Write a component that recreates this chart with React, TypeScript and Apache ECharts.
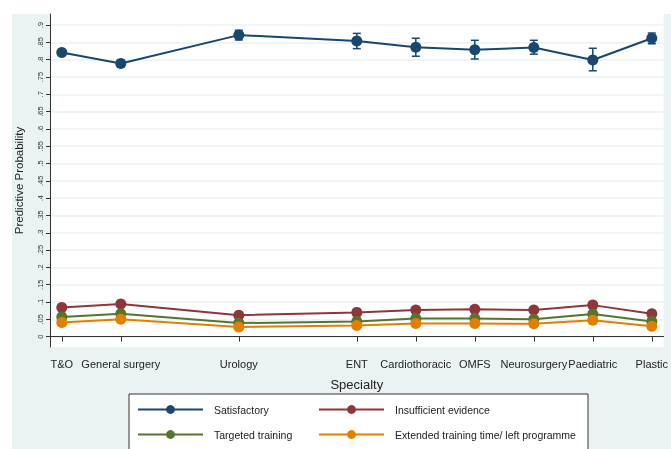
import React, { useEffect, useRef } from "react";
import * as echarts from "echarts";

const categories = ["T&O", "General surgery", "Urology", "ENT", "Cardiothoracic", "OMFS", "Neurosurgery", "Paediatric", "Plastic"];
const positions = [1, 2, 4, 6, 7, 8, 9, 10, 11];
const yTicks = [0, 0.05, 0.1, 0.15, 0.2, 0.25, 0.3, 0.35, 0.4, 0.45, 0.5, 0.55, 0.6, 0.65, 0.7, 0.75, 0.8, 0.85, 0.9];

const satisfactory = [0.821, 0.789, 0.871, 0.854, 0.836, 0.829, 0.835, 0.799, 0.862];
const satisfactoryLow = [0.813, 0.779, 0.857, 0.832, 0.810, 0.802, 0.816, 0.768, 0.846];
const satisfactoryHigh = [0.829, 0.799, 0.885, 0.876, 0.862, 0.856, 0.856, 0.833, 0.877];

const insufficient = [0.084, 0.094, 0.062, 0.070, 0.077, 0.079, 0.077, 0.091, 0.066];
const insufficientLow = [0.079, 0.089, 0.058, 0.065, 0.070, 0.072, 0.071, 0.081, 0.061];
const insufficientHigh = [0.089, 0.099, 0.066, 0.075, 0.084, 0.086, 0.083, 0.101, 0.071];

const targeted = [0.057, 0.066, 0.039, 0.044, 0.052, 0.052, 0.050, 0.065, 0.044];
const targetedLow = [0.053, 0.062, 0.036, 0.040, 0.047, 0.047, 0.046, 0.058, 0.040];
const targetedHigh = [0.061, 0.070, 0.042, 0.048, 0.057, 0.057, 0.054, 0.072, 0.048];

const extended = [0.041, 0.050, 0.028, 0.032, 0.038, 0.038, 0.037, 0.047, 0.030];
const extendedLow = [0.038, 0.046, 0.025, 0.029, 0.034, 0.034, 0.033, 0.042, 0.027];
const extendedHigh = [0.044, 0.054, 0.031, 0.035, 0.042, 0.042, 0.041, 0.052, 0.033];

const seriesNames = ["Satisfactory", "Insufficient evidence", "Targeted training", "Extended training time/ left programme"];
const colors = ["#1a476f", "#90353b", "#55752f", "#e37e00"];

const FONT = "Liberation Sans, Arial, sans-serif";

export default function App() {
  const ref = useRef<HTMLDivElement>(null);
  useEffect(() => {
    if (!ref.current) return;
    const chart = echarts.init(ref.current, null, { renderer: "svg" });
    const values = [satisfactory, insufficient, targeted, extended];
    const lows = [satisfactoryLow, insufficientLow, targetedLow, extendedLow];
    const highs = [satisfactoryHigh, insufficientHigh, targetedHigh, extendedHigh];

    const errSeries = values.map((_, si) => ({
      type: "custom",
      name: seriesNames[si] + " CI",
      z: 2,
      silent: true,
      data: positions.map((p, i) => [p, lows[si][i], highs[si][i]]),
      encode: { x: 0, y: [1, 2] },
      renderItem: (params: any, api: any) => {
        const x = api.value(0);
        const lo = api.coord([x, api.value(1)]);
        const hi = api.coord([x, api.value(2)]);
        const hw = 4;
        const style = { stroke: colors[si], lineWidth: 1.5 };
        return {
          type: "group",
          children: [
            { type: "line", shape: { x1: lo[0], y1: lo[1], x2: hi[0], y2: hi[1] }, style },
            { type: "line", shape: { x1: lo[0] - hw, y1: lo[1], x2: lo[0] + hw, y2: lo[1] }, style },
            { type: "line", shape: { x1: hi[0] - hw, y1: hi[1], x2: hi[0] + hw, y2: hi[1] }, style },
          ],
        };
      },
    }));

    const lineSeries = values.map((v, si) => ({
      type: "line",
      name: seriesNames[si],
      z: 3,
      data: positions.map((p, i) => [p, v[i]]),
      symbol: "circle",
      symbolSize: 11,
      showSymbol: true,
      itemStyle: { color: colors[si] },
      lineStyle: { color: colors[si], width: 2 },
    }));

    const legendPos = [
      { left: 137, top: 404 },
      { left: 318, top: 404 },
      { left: 137, top: 429 },
      { left: 318, top: 429 },
    ];

    const legends = seriesNames.map((n, i) => ({
      data: [n],
      left: legendPos[i].left,
      top: legendPos[i].top,
      itemWidth: 65,
      itemHeight: 11,
      selectedMode: false,
      padding: 0,
      textStyle: { fontFamily: FONT, fontSize: 10.5, color: "#222", padding: [0, 0, 0, 6] },
    }));

    chart.setOption({
      animation: false,
      textStyle: { fontFamily: FONT },
      graphic: [
        { type: "rect", shape: { x: 12, y: 14, width: 659, height: 435 }, style: { fill: "#eaf2f3" }, z: -10 },
        { type: "rect", shape: { x: 129, y: 394, width: 459, height: 70 }, style: { fill: "#ffffff", stroke: "#333", lineWidth: 1 }, z: -5 },
      ],
      grid: { left: 50, right: 2, top: 14, bottom: 102, show: true, backgroundColor: "#ffffff", borderWidth: 0 },
      xAxis: {
        type: "value",
        min: 0.8,
        max: 11.2,
        name: "Specialty",
        nameLocation: "middle",
        nameGap: 31,
        nameTextStyle: { fontFamily: FONT, fontSize: 13, color: "#222" },
        axisLine: { show: true, lineStyle: { color: "#333", width: 1 } },
        axisTick: { show: true, length: 5, customValues: positions, lineStyle: { color: "#333" } },
        axisLabel: {
          customValues: positions,
          margin: 11,
          fontFamily: FONT,
          fontSize: 11,
          color: "#222",
          formatter: (val: number) => {
            const idx = positions.indexOf(val);
            return idx >= 0 ? categories[idx] : "";
          },
        },
        splitLine: { show: false },
      },
      yAxis: {
        type: "value",
        min: -0.03,
        max: 0.932,
        name: "Predictive Probability",
        nameLocation: "middle",
        nameGap: 25,
        nameRotate: 90,
        nameTextStyle: { fontFamily: FONT, fontSize: 11.5, color: "#222" },
        axisLine: { show: true, lineStyle: { color: "#333", width: 1 } },
        axisTick: { show: true, length: 4, customValues: yTicks, lineStyle: { color: "#333" } },
        axisLabel: {
          customValues: yTicks,
          rotate: 90,
          margin: 6,
          fontFamily: FONT,
          fontSize: 7.5,
          color: "#333",
          formatter: (val: number) => {
            const r = Math.round(val * 100) / 100;
            return r === 0 ? "0" : String(r).replace(/^0\./, ".");
          },
        },
        splitLine: { show: true, customValues: yTicks, lineStyle: { color: "#eaf2f3", width: 1.5 } },
      },
      legend: legends,
      series: [...errSeries, ...lineSeries],
    });
    return () => chart.dispose();
  }, []);
  return <div ref={ref} style={{ position: "fixed", left: 0, top: 0, width: 671, height: 449 }} />;
}
